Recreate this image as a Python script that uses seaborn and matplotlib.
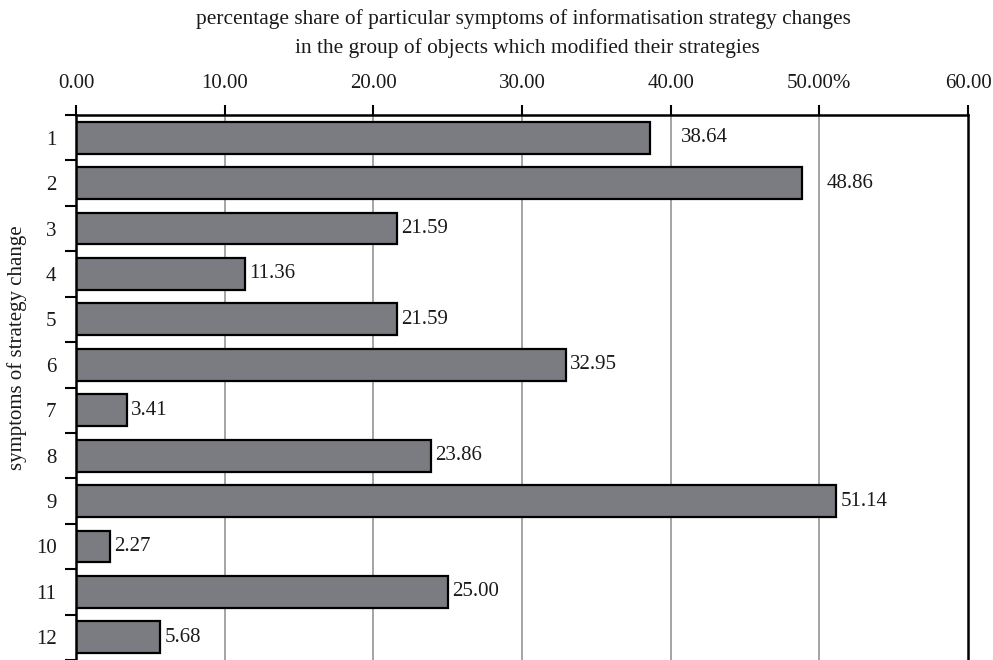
import matplotlib
matplotlib.use("Agg")
import matplotlib.pyplot as plt
import numpy as np
import pandas as pd
import seaborn as sns

# Data
symptoms = ["1", "2", "3", "4", "5", "6", "7", "8", "9", "10", "11", "12"]
shares = [38.64, 48.86, 21.59, 11.36, 21.59, 32.95, 3.41, 23.86, 51.14, 2.27, 25.00, 5.68]
x_ticks = [0, 10, 20, 30, 40, 50, 60]
x_tick_labels = ["0.00", "10.00", "20.00", "30.00", "40.00", "50.00%", "60.00"]

df = pd.DataFrame({"symptom": symptoms, "share": shares})

sns.set_theme(style="white")
plt.rcParams["font.family"] = ["Liberation Serif", "DejaVu Serif"]

FS = 15

fig = plt.figure(figsize=(9.93, 6.6), dpi=100)
ax = fig.add_axes([76 / 993, 0.0, (968 - 76) / 993, 1 - 115 / 660])

sns.barplot(data=df, x="share", y="symptom", orient="h", order=symptoms,
            color="#7b7c81", saturation=1, width=0.7,
            edgecolor="black", linewidth=1.6, ax=ax)

ax.set_xlim(0, 60)
ax.set_ylim(11.5, -0.5)

# Vertical grid lines
for x in x_ticks[1:-1]:
    ax.axvline(x, color="#8c8c8c", lw=1.1, zorder=0)

# X axis on top
ax.xaxis.tick_top()
ax.set_xticks(x_ticks)
ax.set_xticklabels(x_tick_labels, fontsize=FS, color="#1a1a1a")
ax.tick_params(axis="x", direction="out", length=7, width=1.5, color="black", pad=9)

# Y axis: labels at category centres, tick marks between categories
ax.set_yticks(range(len(symptoms)))
ax.set_yticklabels(symptoms, fontsize=FS, color="#1a1a1a")
ax.tick_params(axis="y", which="major", length=0, pad=14)
ax.set_yticks(np.arange(-0.5, len(symptoms), 1.0), minor=True)
ax.tick_params(axis="y", which="minor", direction="out", length=8, width=1.5, color="black", left=True)

ax.set_xlabel("")
ax.set_ylabel("symptoms of strategy change", fontsize=FS, color="#1a1a1a")
ax.yaxis.set_label_coords((27 - 76) / 892, (660 - 348) / 545)

for side in ["top", "left", "right"]:
    ax.spines[side].set_visible(True)
    ax.spines[side].set_color("black")
    ax.spines[side].set_linewidth(1.8)
ax.spines["bottom"].set_visible(False)

# Value labels
label_offsets = [30, 24, 4, 4, 4, 4, 4, 4, 4, 4, 4, 4]
for i, (v, off) in enumerate(zip(shares, label_offsets)):
    ax.annotate(f"{v:.2f}", xy=(v, i), xytext=(off, 0), textcoords="offset pixels",
                va="center", ha="left", fontsize=FS, color="#1a1a1a")

fig.text(523 / 993, 1 - 19 / 660, "percentage share of particular symptoms of informatisation strategy changes",
         ha="center", va="center", fontsize=15.4, color="#1a1a1a")
fig.text(527 / 993, 1 - 48 / 660, "in the group of objects which modified their strategies",
         ha="center", va="center", fontsize=15.4, color="#1a1a1a")

fig.savefig("out.png", dpi=100)
